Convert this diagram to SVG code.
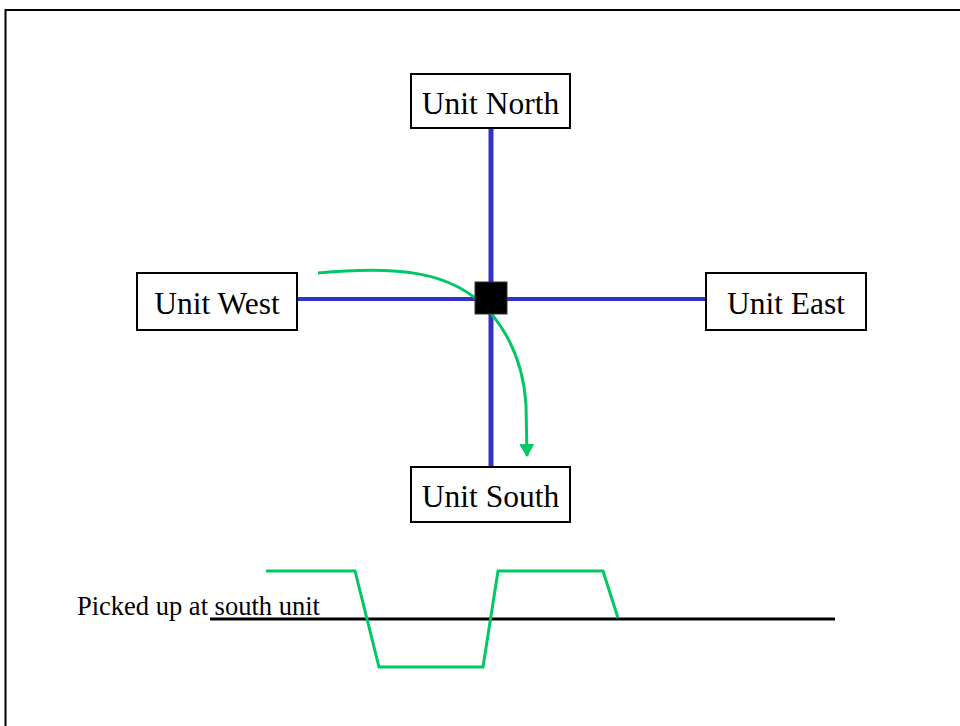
<svg xmlns="http://www.w3.org/2000/svg" width="960" height="726" viewBox="0 0 960 726">
  <defs>
    <style>
      .box { fill: #ffffff; stroke: #000000; stroke-width: 2; }
      .label { font-family: "Liberation Serif", "Times New Roman", serif; font-size: 31.5px; fill: #000000; text-anchor: middle; }
      .note { font-family: "Liberation Serif", "Times New Roman", serif; font-size: 26.5px; fill: #000000; }
      .bus { stroke: #3232C8; fill: none; }
      .signal { stroke: #00C864; stroke-width: 3; fill: none; stroke-linejoin: miter; }
    </style>
    <marker id="arrow" viewBox="0 0 13 15" refX="12" refY="7.5" markerWidth="13" markerHeight="15" orient="auto" markerUnits="userSpaceOnUse">
      <path d="M0,0 L13,7.5 L0,15 Z" fill="#00C864"/>
    </marker>
  </defs>

  <rect width="960" height="726" fill="#ffffff"/>
  <!-- page frame -->
  <path d="M5.5,740 L5.5,10 L970,10" fill="none" stroke="#000000" stroke-width="2"/>

  <g id="connectors">
    <line class="bus" x1="491" y1="128" x2="491" y2="467" stroke-width="5"/>
    <line class="bus" x1="297" y1="299" x2="706" y2="299" stroke-width="4"/>
    <!-- signal path from west to south -->
    <path class="signal" d="M318,273 C395,266 452,270 488,310 C513,338 524,372 526,405 L527,456" marker-end="url(#arrow)"/>
  </g>

  <g id="junction">
    <rect x="475" y="282" width="32" height="32" fill="#000000" stroke="#333333" stroke-width="1"/>
  </g>

  <g id="unit-north">
    <rect class="box" x="411" y="74" width="159" height="54"/>
    <text class="label" x="490.5" y="114">Unit North</text>
  </g>
  <g id="unit-west">
    <rect class="box" x="137" y="273" width="160" height="57"/>
    <text class="label" x="217" y="314">Unit West</text>
  </g>
  <g id="unit-east">
    <rect class="box" x="706" y="273" width="160" height="57"/>
    <text class="label" x="786" y="314">Unit East</text>
  </g>
  <g id="unit-south">
    <rect class="box" x="411" y="467" width="159" height="55"/>
    <text class="label" x="490.5" y="507">Unit South</text>
  </g>

  <g id="waveform">
    <text class="note" x="77" y="615">Picked up at south unit</text>
    <line x1="210" y1="619" x2="835" y2="619" stroke="#000000" stroke-width="3"/>
    <polyline class="signal" points="266,571 355,571 379,667 483,667 498,571 603,571 618,618"/>
  </g>
</svg>
